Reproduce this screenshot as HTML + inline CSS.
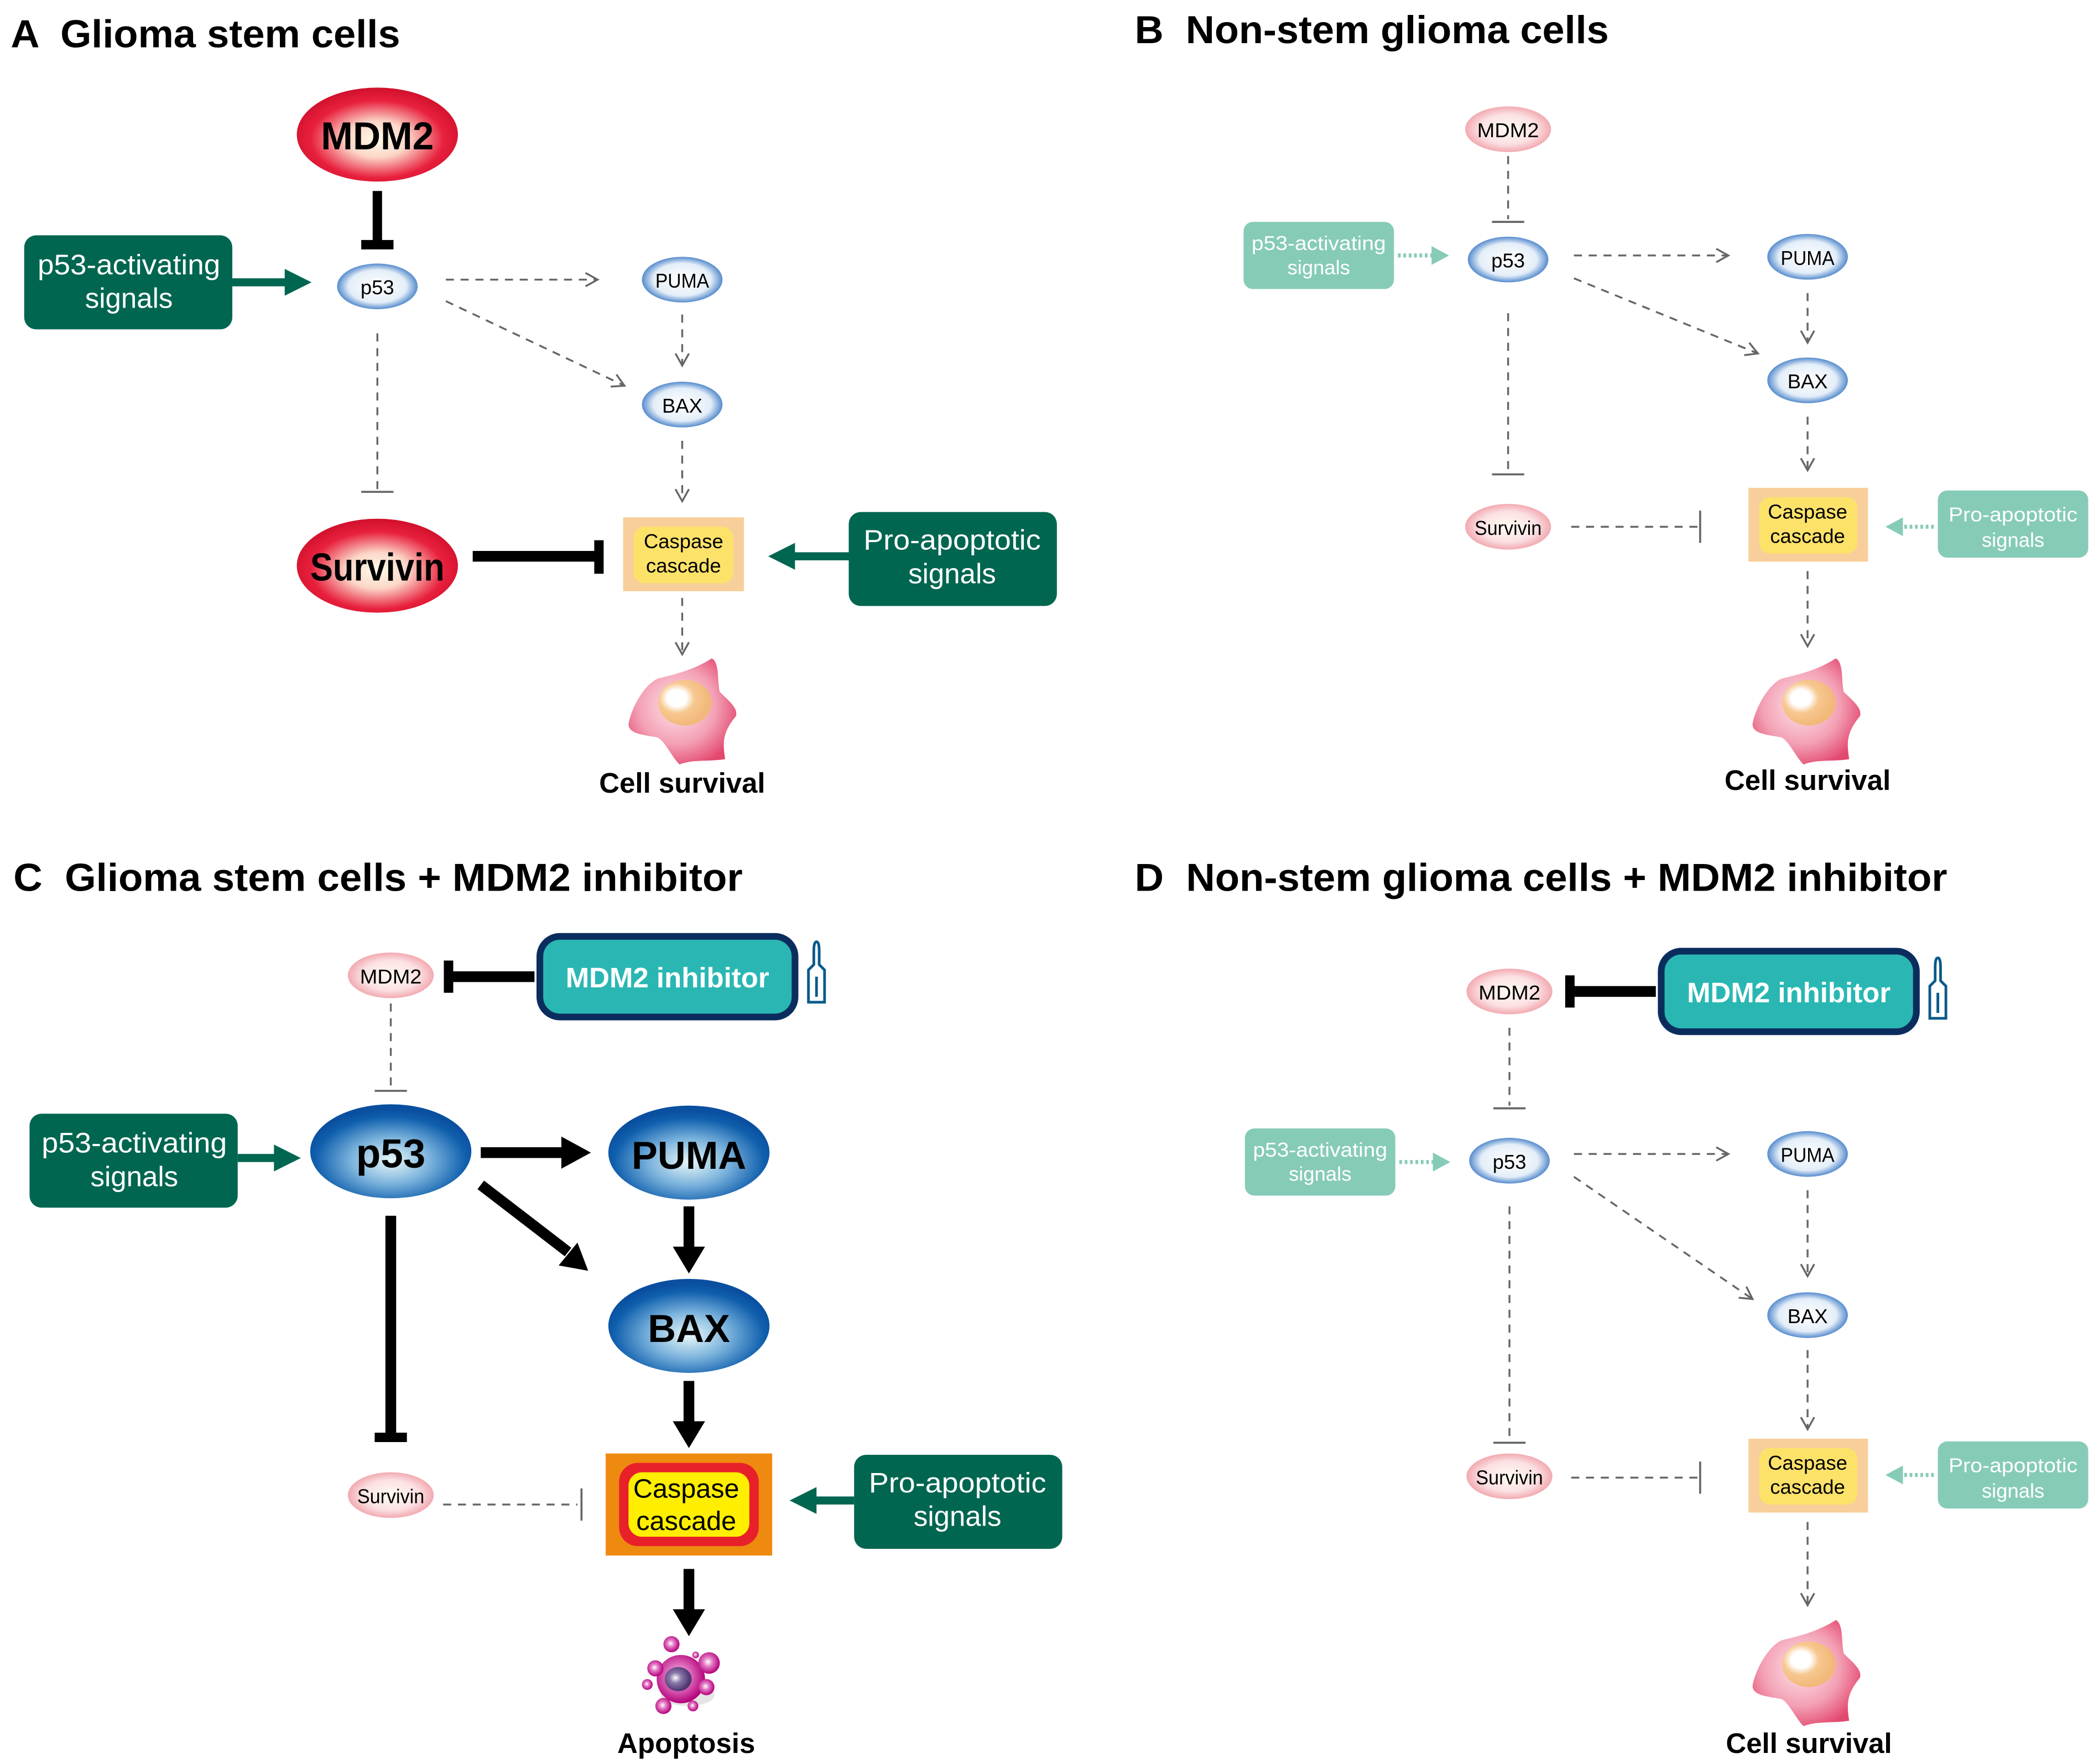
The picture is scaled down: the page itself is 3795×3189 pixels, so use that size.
<!DOCTYPE html>
<html><head><meta charset="utf-8"><style>
html,body{margin:0;padding:0;background:#fff;}
svg{display:block;}
text{font-family:"Liberation Sans",sans-serif;}
</style></head><body>
<svg width="3795" height="3189" viewBox="0 0 1563 1313" xmlns="http://www.w3.org/2000/svg">
<defs>
<radialGradient id="red" cx="50%" cy="55%" r="55%"><stop offset="0" stop-color="#fffbe8"/><stop offset="0.35" stop-color="#fbd6c8"/><stop offset="0.75" stop-color="#e8203d"/><stop offset="1" stop-color="#d0102c"/></radialGradient>
<radialGradient id="pink" cx="50%" cy="50%" r="55%"><stop offset="0" stop-color="#fffbf0"/><stop offset="0.6" stop-color="#fbe0e3"/><stop offset="1" stop-color="#ef9aa2"/></radialGradient>
<radialGradient id="blue" cx="50%" cy="60%" r="55%"><stop offset="0" stop-color="#e8f8f8"/><stop offset="0.45" stop-color="#7ab2dc"/><stop offset="0.85" stop-color="#0f5fad"/><stop offset="1" stop-color="#0a4fa0"/></radialGradient>
<radialGradient id="lblue" cx="50%" cy="50%" r="55%"><stop offset="0" stop-color="#ffffff"/><stop offset="0.65" stop-color="#e4eef8"/><stop offset="0.9" stop-color="#5b8fcf"/><stop offset="1" stop-color="#1a5fae"/></radialGradient>
<radialGradient id="cellg" cx="45%" cy="45%" r="60%"><stop offset="0" stop-color="#fde6ec"/><stop offset="0.6" stop-color="#f3a0b4"/><stop offset="1" stop-color="#e3486f"/></radialGradient>
<radialGradient id="nuc" cx="35%" cy="40%" r="60%"><stop offset="0" stop-color="#fff"/><stop offset="0.3" stop-color="#fff"/><stop offset="0.55" stop-color="#f7c890"/><stop offset="1" stop-color="#f2b87a"/></radialGradient>
<radialGradient id="mag" cx="45%" cy="45%" r="55%"><stop offset="0" stop-color="#fff"/><stop offset="0.4" stop-color="#e27ac4"/><stop offset="1" stop-color="#b5007a"/></radialGradient>
<radialGradient id="pnuc" cx="40%" cy="45%" r="55%"><stop offset="0" stop-color="#fff"/><stop offset="0.4" stop-color="#8a78a8"/><stop offset="1" stop-color="#4d3570"/></radialGradient>
<marker id="oa" markerWidth="12" markerHeight="12" refX="10" refY="6" orient="auto" markerUnits="userSpaceOnUse"><path d="M1,1 L10,6 L1,11" fill="none" stroke="#666" stroke-width="1.4"/></marker>
<g id="cell"><path d="M-40,12 C-38,0 -28,-18 -18,-22 C-6,-25 8,-28 22,-37 C28,-34 26,-20 28,-12 C34,-6 42,0 40,6 C30,18 30,26 32,38 C20,40 8,38 -2,42 C-8,36 -12,26 -18,22 C-26,20 -40,20 -40,12 Z" fill="url(#cellg)"/><ellipse cx="2" cy="-4" rx="20" ry="17" fill="url(#nuc)"/></g>
<g id="vial"><path d="M4,46 L4,22 L8,18 L8,8 Q8,1 10,1 Q12,1 12,8 L12,18 L16,22 L16,46 Z" fill="#fff" stroke="#0a5a8a" stroke-width="2"/><line x1="10" y1="27" x2="10" y2="42" stroke="#0a5a8a" stroke-width="2"/></g>
</defs>

<!-- Titles -->
<text x="8" y="35" font-size="29" font-weight="bold" xml:space="preserve" textLength="290" lengthAdjust="spacingAndGlyphs">A  Glioma stem cells</text>
<text x="845" y="32" font-size="29" font-weight="bold" xml:space="preserve" textLength="353" lengthAdjust="spacingAndGlyphs">B  Non-stem glioma cells</text>
<text x="10" y="663" font-size="29" font-weight="bold" xml:space="preserve" textLength="543" lengthAdjust="spacingAndGlyphs">C  Glioma stem cells + MDM2 inhibitor</text>
<text x="845" y="663" font-size="29" font-weight="bold" xml:space="preserve" textLength="605" lengthAdjust="spacingAndGlyphs">D  Non-stem glioma cells + MDM2 inhibitor</text>

<!-- ===== Panel A ===== -->
<ellipse cx="281" cy="100" rx="60" ry="35" fill="url(#red)"/>
<text x="281" y="111" font-size="29" font-weight="bold" text-anchor="middle" textLength="84" lengthAdjust="spacingAndGlyphs">MDM2</text>
<line x1="281" y1="142" x2="281" y2="182" stroke="#000" stroke-width="7"/>
<line x1="269" y1="182" x2="293" y2="182" stroke="#000" stroke-width="7"/>
<rect x="18" y="175" width="155" height="70" rx="9" fill="#006650"/>
<text x="96" y="204" font-size="21" fill="#fff" text-anchor="middle" textLength="136" lengthAdjust="spacingAndGlyphs">p53-activating</text>
<text x="96" y="229" font-size="21" fill="#fff" text-anchor="middle">signals</text>
<line x1="173" y1="210" x2="214" y2="210" stroke="#006650" stroke-width="6"/>
<path d="M212,200 L232,210 L212,220 Z" fill="#006650"/>
<ellipse cx="281" cy="213" rx="30" ry="17" fill="url(#lblue)"/>
<text x="281" y="219" font-size="15" text-anchor="middle">p53</text>
<ellipse cx="508" cy="208" rx="30" ry="17" fill="url(#lblue)"/>
<text x="508" y="214" font-size="15" text-anchor="middle" textLength="40" lengthAdjust="spacingAndGlyphs">PUMA</text>
<ellipse cx="508" cy="301" rx="30" ry="17" fill="url(#lblue)"/>
<text x="508" y="307" font-size="15" text-anchor="middle">BAX</text>
<g stroke="#666" stroke-width="1.4" stroke-dasharray="6,5" fill="none">
<line x1="332" y1="208" x2="445" y2="208" marker-end="url(#oa)"/>
<line x1="332" y1="224" x2="465" y2="287" marker-end="url(#oa)"/>
<line x1="508" y1="234" x2="508" y2="272" marker-end="url(#oa)"/>
<line x1="508" y1="328" x2="508" y2="373" marker-end="url(#oa)"/>
<line x1="508" y1="445" x2="508" y2="487" marker-end="url(#oa)"/>
<line x1="281" y1="248" x2="281" y2="364"/>
</g>
<line x1="269" y1="366" x2="293" y2="366" stroke="#666" stroke-width="1.5"/>
<ellipse cx="281" cy="421" rx="60" ry="35" fill="url(#red)"/>
<text x="281" y="432" font-size="29" font-weight="bold" text-anchor="middle" textLength="100" lengthAdjust="spacingAndGlyphs">Survivin</text>
<line x1="352" y1="414" x2="446" y2="414" stroke="#000" stroke-width="8"/>
<line x1="446" y1="402" x2="446" y2="427" stroke="#000" stroke-width="7"/>
<rect x="464" y="385" width="90" height="55" fill="#f8cf9a"/>
<rect x="472" y="392" width="74" height="42" rx="8" fill="#fde26a"/>
<text x="509" y="408" font-size="15" text-anchor="middle">Caspase</text>
<text x="509" y="426" font-size="15" text-anchor="middle">cascade</text>
<rect x="632" y="381" width="155" height="70" rx="9" fill="#006650"/>
<text x="709" y="409" font-size="21" fill="#fff" text-anchor="middle" textLength="132" lengthAdjust="spacingAndGlyphs">Pro-apoptotic</text>
<text x="709" y="434" font-size="21" fill="#fff" text-anchor="middle">signals</text>
<line x1="632" y1="414" x2="590" y2="414" stroke="#006650" stroke-width="6"/>
<path d="M592,404 L572,414 L592,424 Z" fill="#006650"/>
<use href="#cell" x="508" y="527"/>
<text x="508" y="590" font-size="21" font-weight="bold" text-anchor="middle">Cell survival</text>

<!-- ===== Panel B ===== -->
<ellipse cx="1123" cy="96" rx="32" ry="17" fill="url(#pink)"/>
<text x="1123" y="102" font-size="15" text-anchor="middle" textLength="46" lengthAdjust="spacingAndGlyphs">MDM2</text>
<rect x="926" y="165" width="112" height="50" rx="7" fill="#86cbb8"/>
<text x="982" y="186" font-size="15" fill="#fff" text-anchor="middle" textLength="100" lengthAdjust="spacingAndGlyphs">p53-activating</text>
<text x="982" y="204" font-size="15" fill="#fff" text-anchor="middle">signals</text>
<line x1="1041" y1="190" x2="1066" y2="190" stroke="#86cbb8" stroke-width="3" stroke-dasharray="2,2"/>
<path d="M1066,183 L1079,190 L1066,197 Z" fill="#86cbb8"/>
<ellipse cx="1123" cy="193" rx="30" ry="17" fill="url(#lblue)"/>
<text x="1123" y="199" font-size="15" text-anchor="middle">p53</text>
<ellipse cx="1346" cy="191" rx="30" ry="17" fill="url(#lblue)"/>
<text x="1346" y="197" font-size="15" text-anchor="middle" textLength="40" lengthAdjust="spacingAndGlyphs">PUMA</text>
<ellipse cx="1346" cy="283" rx="30" ry="17" fill="url(#lblue)"/>
<text x="1346" y="289" font-size="15" text-anchor="middle">BAX</text>
<g stroke="#666" stroke-width="1.4" stroke-dasharray="6,5" fill="none">
<line x1="1123" y1="116" x2="1123" y2="163"/>
<line x1="1172" y1="190" x2="1287" y2="190" marker-end="url(#oa)"/>
<line x1="1172" y1="207" x2="1309" y2="263" marker-end="url(#oa)"/>
<line x1="1346" y1="218" x2="1346" y2="255" marker-end="url(#oa)"/>
<line x1="1346" y1="310" x2="1346" y2="350" marker-end="url(#oa)"/>
<line x1="1346" y1="425" x2="1346" y2="481" marker-end="url(#oa)"/>
<line x1="1123" y1="233" x2="1123" y2="351"/>
<line x1="1170" y1="392" x2="1264" y2="392"/>
</g>
<g stroke="#666" stroke-width="1.5">
<line x1="1111" y1="165" x2="1135" y2="165"/>
<line x1="1111" y1="353" x2="1135" y2="353"/>
<line x1="1266" y1="380" x2="1266" y2="404"/>
</g>
<ellipse cx="1123" cy="392" rx="32" ry="17" fill="url(#pink)"/>
<text x="1123" y="398" font-size="15" text-anchor="middle" textLength="50" lengthAdjust="spacingAndGlyphs">Survivin</text>
<rect x="1302" y="363" width="89" height="55" fill="#f8cf9a"/>
<rect x="1310" y="370" width="73" height="42" rx="8" fill="#fde26a"/>
<text x="1346" y="386" font-size="15" text-anchor="middle">Caspase</text>
<text x="1346" y="404" font-size="15" text-anchor="middle">cascade</text>
<rect x="1443" y="365" width="112" height="50" rx="7" fill="#86cbb8"/>
<text x="1499" y="388" font-size="15" fill="#fff" text-anchor="middle" textLength="96" lengthAdjust="spacingAndGlyphs">Pro-apoptotic</text>
<text x="1499" y="407" font-size="15" fill="#fff" text-anchor="middle">signals</text>
<line x1="1440" y1="392" x2="1416" y2="392" stroke="#86cbb8" stroke-width="3" stroke-dasharray="2,2"/>
<path d="M1417,385 L1404,392 L1417,399 Z" fill="#86cbb8"/>
<use href="#cell" x="1345" y="527"/>
<text x="1346" y="588" font-size="21" font-weight="bold" text-anchor="middle">Cell survival</text>

<!-- ===== Panel C ===== -->
<ellipse cx="291" cy="726" rx="32" ry="17" fill="url(#pink)"/>
<text x="291" y="732" font-size="15" text-anchor="middle" textLength="46" lengthAdjust="spacingAndGlyphs">MDM2</text>
<rect x="402" y="697" width="190" height="60" rx="15" fill="#2ab7b3" stroke="#0b2d5e" stroke-width="5"/>
<text x="497" y="735" font-size="21" font-weight="bold" fill="#fff" text-anchor="middle">MDM2 inhibitor</text>
<use href="#vial" x="598" y="700"/>
<line x1="398" y1="727" x2="334" y2="727" stroke="#000" stroke-width="8"/>
<line x1="334" y1="715" x2="334" y2="739" stroke="#000" stroke-width="7"/>
<line x1="291" y1="747" x2="291" y2="810" stroke="#666" stroke-width="1.4" stroke-dasharray="6,5"/>
<line x1="279" y1="812" x2="303" y2="812" stroke="#666" stroke-width="1.5"/>
<rect x="22" y="829" width="155" height="70" rx="9" fill="#006650"/>
<text x="100" y="858" font-size="21" fill="#fff" text-anchor="middle" textLength="138" lengthAdjust="spacingAndGlyphs">p53-activating</text>
<text x="100" y="883" font-size="21" fill="#fff" text-anchor="middle">signals</text>
<line x1="177" y1="862" x2="206" y2="862" stroke="#006650" stroke-width="6"/>
<path d="M204,852 L224,862 L204,872 Z" fill="#006650"/>
<ellipse cx="291" cy="857" rx="60" ry="35" fill="url(#blue)"/>
<text x="291" y="869" font-size="30" font-weight="bold" text-anchor="middle">p53</text>
<ellipse cx="513" cy="858" rx="60" ry="35" fill="url(#blue)"/>
<text x="513" y="870" font-size="29" font-weight="bold" text-anchor="middle">PUMA</text>
<ellipse cx="513" cy="987" rx="60" ry="35" fill="url(#blue)"/>
<text x="513" y="999" font-size="29" font-weight="bold" text-anchor="middle">BAX</text>
<g fill="#000">
<line x1="358" y1="858" x2="420" y2="858" stroke="#000" stroke-width="8"/>
<path d="M418,846 L440,858 L418,870 Z"/>
<line x1="358" y1="882" x2="423" y2="932" stroke="#000" stroke-width="8"/>
<path d="M416,942 L438,946 L430,925 Z"/>
<line x1="513" y1="898" x2="513" y2="930" stroke="#000" stroke-width="8"/>
<path d="M501,928 L513,948 L525,928 Z"/>
<line x1="513" y1="1028" x2="513" y2="1060" stroke="#000" stroke-width="8"/>
<path d="M501,1058 L513,1078 L525,1058 Z"/>
<line x1="513" y1="1168" x2="513" y2="1200" stroke="#000" stroke-width="8"/>
<path d="M501,1198 L513,1218 L525,1198 Z"/>
</g>
<line x1="291" y1="905" x2="291" y2="1070" stroke="#000" stroke-width="8"/>
<line x1="279" y1="1070" x2="303" y2="1070" stroke="#000" stroke-width="7"/>
<ellipse cx="291" cy="1113" rx="32" ry="17" fill="url(#pink)"/>
<text x="291" y="1119" font-size="15" text-anchor="middle" textLength="50" lengthAdjust="spacingAndGlyphs">Survivin</text>
<line x1="330" y1="1120" x2="430" y2="1120" stroke="#666" stroke-width="1.4" stroke-dasharray="6,5"/>
<line x1="433" y1="1108" x2="433" y2="1132" stroke="#666" stroke-width="1.5"/>
<rect x="451" y="1082" width="124" height="76" fill="#ef8a10"/>
<rect x="461" y="1089" width="104" height="62" rx="14" fill="#e8202a"/>
<rect x="468" y="1096" width="90" height="48" rx="10" fill="#ffee00"/>
<text x="511" y="1115" font-size="20" text-anchor="middle">Caspase</text>
<text x="511" y="1139" font-size="20" text-anchor="middle">cascade</text>
<rect x="636" y="1083" width="155" height="70" rx="9" fill="#006650"/>
<text x="713" y="1111" font-size="21" fill="#fff" text-anchor="middle" textLength="132" lengthAdjust="spacingAndGlyphs">Pro-apoptotic</text>
<text x="713" y="1136" font-size="21" fill="#fff" text-anchor="middle">signals</text>
<line x1="636" y1="1117" x2="606" y2="1117" stroke="#006650" stroke-width="6"/>
<path d="M608,1107 L588,1117 L608,1127 Z" fill="#006650"/>
<g>
<ellipse cx="512" cy="1262" rx="20" ry="8" fill="#ccc" opacity="0.5"/>
<circle cx="507" cy="1250" r="18" fill="url(#mag)"/>
<ellipse cx="505" cy="1250" rx="10" ry="9" fill="url(#pnuc)"/>
<circle cx="500" cy="1224" r="6" fill="url(#mag)"/>
<circle cx="488" cy="1242" r="6" fill="url(#mag)"/>
<circle cx="528" cy="1238" r="8" fill="url(#mag)"/>
<circle cx="526" cy="1256" r="6" fill="url(#mag)"/>
<circle cx="494" cy="1270" r="6" fill="url(#mag)"/>
<circle cx="482" cy="1254" r="4" fill="url(#mag)"/>
<circle cx="516" cy="1270" r="4" fill="url(#mag)"/>
<circle cx="518" cy="1232" r="2.5" fill="url(#mag)"/>
</g>
<text x="511" y="1305" font-size="21" font-weight="bold" text-anchor="middle">Apoptosis</text>

<!-- ===== Panel D ===== -->
<ellipse cx="1124" cy="738" rx="32" ry="17" fill="url(#pink)"/>
<text x="1124" y="744" font-size="15" text-anchor="middle" textLength="46" lengthAdjust="spacingAndGlyphs">MDM2</text>
<rect x="1237" y="708" width="190" height="60" rx="15" fill="#2ab7b3" stroke="#0b2d5e" stroke-width="5"/>
<text x="1332" y="746" font-size="21" font-weight="bold" fill="#fff" text-anchor="middle">MDM2 inhibitor</text>
<use href="#vial" x="1433" y="712"/>
<line x1="1233" y1="738" x2="1169" y2="738" stroke="#000" stroke-width="8"/>
<line x1="1169" y1="726" x2="1169" y2="750" stroke="#000" stroke-width="7"/>
<rect x="927" y="840" width="112" height="50" rx="7" fill="#86cbb8"/>
<text x="983" y="861" font-size="15" fill="#fff" text-anchor="middle" textLength="100" lengthAdjust="spacingAndGlyphs">p53-activating</text>
<text x="983" y="879" font-size="15" fill="#fff" text-anchor="middle">signals</text>
<line x1="1042" y1="865" x2="1067" y2="865" stroke="#86cbb8" stroke-width="3" stroke-dasharray="2,2"/>
<path d="M1067,858 L1080,865 L1067,872 Z" fill="#86cbb8"/>
<ellipse cx="1124" cy="864" rx="30" ry="17" fill="url(#lblue)"/>
<text x="1124" y="870" font-size="15" text-anchor="middle">p53</text>
<ellipse cx="1346" cy="859" rx="30" ry="17" fill="url(#lblue)"/>
<text x="1346" y="865" font-size="15" text-anchor="middle" textLength="40" lengthAdjust="spacingAndGlyphs">PUMA</text>
<ellipse cx="1346" cy="979" rx="30" ry="17" fill="url(#lblue)"/>
<text x="1346" y="985" font-size="15" text-anchor="middle">BAX</text>
<g stroke="#666" stroke-width="1.4" stroke-dasharray="6,5" fill="none">
<line x1="1124" y1="765" x2="1124" y2="823"/>
<line x1="1172" y1="859" x2="1287" y2="859" marker-end="url(#oa)"/>
<line x1="1172" y1="876" x2="1305" y2="967" marker-end="url(#oa)"/>
<line x1="1346" y1="886" x2="1346" y2="950" marker-end="url(#oa)"/>
<line x1="1346" y1="1005" x2="1346" y2="1064" marker-end="url(#oa)"/>
<line x1="1346" y1="1133" x2="1346" y2="1195" marker-end="url(#oa)"/>
<line x1="1124" y1="898" x2="1124" y2="1072"/>
<line x1="1170" y1="1100" x2="1264" y2="1100"/>
</g>
<g stroke="#666" stroke-width="1.5">
<line x1="1112" y1="825" x2="1136" y2="825"/>
<line x1="1112" y1="1074" x2="1136" y2="1074"/>
<line x1="1266" y1="1088" x2="1266" y2="1112"/>
</g>
<ellipse cx="1124" cy="1099" rx="32" ry="17" fill="url(#pink)"/>
<text x="1124" y="1105" font-size="15" text-anchor="middle" textLength="50" lengthAdjust="spacingAndGlyphs">Survivin</text>
<rect x="1302" y="1071" width="89" height="55" fill="#f8cf9a"/>
<rect x="1310" y="1078" width="73" height="42" rx="8" fill="#fde26a"/>
<text x="1346" y="1094" font-size="15" text-anchor="middle">Caspase</text>
<text x="1346" y="1112" font-size="15" text-anchor="middle">cascade</text>
<rect x="1443" y="1073" width="112" height="50" rx="7" fill="#86cbb8"/>
<text x="1499" y="1096" font-size="15" fill="#fff" text-anchor="middle" textLength="96" lengthAdjust="spacingAndGlyphs">Pro-apoptotic</text>
<text x="1499" y="1115" font-size="15" fill="#fff" text-anchor="middle">signals</text>
<line x1="1440" y1="1098" x2="1416" y2="1098" stroke="#86cbb8" stroke-width="3" stroke-dasharray="2,2"/>
<path d="M1417,1091 L1404,1098 L1417,1105 Z" fill="#86cbb8"/>
<use href="#cell" x="1345" y="1243"/>
<text x="1347" y="1305" font-size="21" font-weight="bold" text-anchor="middle">Cell survival</text>
</svg>
</body></html>
